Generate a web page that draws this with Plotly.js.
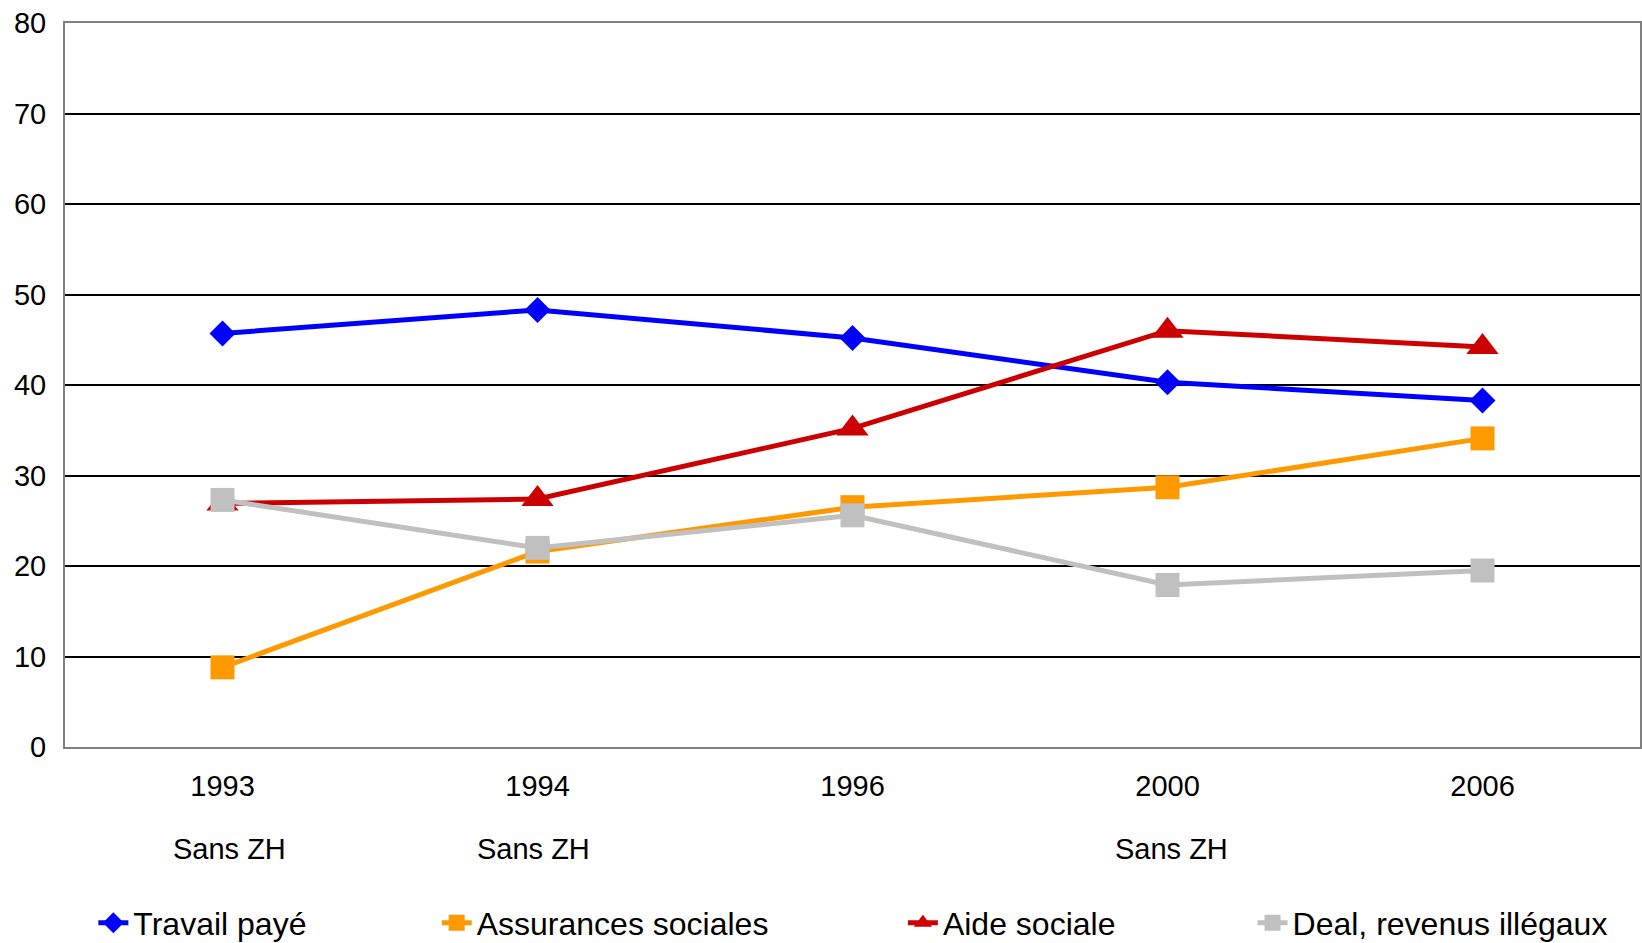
<!DOCTYPE html>
<html>
<head>
<meta charset="utf-8">
<script src="https://cdn.plot.ly/plotly-3.0.1.min.js"></script>
<style>html,body{margin:0;padding:0;background:#fff;}#chart{width:1642px;height:943px;}</style>
</head>
<body>
<div id="chart"></div>
<script>
const years = ["1993", "1994", "1996", "2000", "2006"];
const travailPaye = [45.7, 48.3, 45.2, 40.3, 38.3];
const assurancesSociales = [8.8, 21.6, 26.5, 28.7, 34.1];
const aideSociale = [26.9, 27.4, 35.2, 46.0, 44.2];
const dealRevenus = [27.3, 22.0, 25.6, 17.9, 19.5];
const seriesNames = ["Travail payé", "Assurances sociales", "Aide sociale", "Deal, revenus illégaux"];
const noteLabel = "Sans ZH";
const noteYears = ["1993", "1994", "2000"];
const yTicks = [0, 10, 20, 30, 40, 50, 60, 70, 80];

const FONT = "Liberation Sans, Arial, sans-serif";
const colors = ["#0000FF", "#FF9900", "#CC0000", "#C0C0C0"];
const symbols = ["diamond", "square", "triangle-up", "square"];
const sizes = [20, 24, 28, 24];
const values = [travailPaye, assurancesSociales, aideSociale, dealRevenus];
const legendIds = ["legend", "legend2", "legend3", "legend4"];
const legendX = [0.018, 0.236, 0.532, 0.754];

const traces = values.map((v, i) => ({
  type: "scatter", mode: "lines+markers",
  x: years, y: v, name: seriesNames[i],
  line: {color: colors[i], width: 5},
  marker: {symbol: symbols[i], size: sizes[i], color: colors[i]},
  legend: legendIds[i],
  cliponaxis: false
}));

const layout = {
  width: 1642, height: 943,
  margin: {l: 65, r: 2, t: 23, b: 196, autoexpand: false},
  paper_bgcolor: "#fff", plot_bgcolor: "#fff",
  font: {family: FONT, size: 29, color: "#000"},
  showlegend: true,
  xaxis: {
    type: "category", range: [-0.5, 4.5],
    showgrid: false, zeroline: false,
    showline: true, linecolor: "#808080", linewidth: 2, mirror: true,
    ticks: "", ticklabelstandoff: 12,
    tickfont: {family: FONT, size: 29, color: "#000"}
  },
  yaxis: {
    range: [0, 80], tickvals: yTicks,
    showgrid: true, gridcolor: "#000", gridwidth: 2,
    zeroline: false,
    showline: true, linecolor: "#808080", linewidth: 2, mirror: true,
    ticks: "", ticklabelstandoff: 11,
    tickfont: {family: FONT, size: 29, color: "#000"}
  },
  annotations: noteYears.map((yr, i) => ({
    x: years.indexOf(yr), xref: "x", y: -0.166, yref: "paper",
    text: noteLabel, showarrow: false,
    xshift: [7, -4, 4][i],
    font: {family: FONT, size: 29, color: "#000"}
  }))
};
legendIds.forEach((id, i) => {
  layout[id] = {
    orientation: "h", x: legendX[i], xanchor: "left",
    y: -0.243, yanchor: "middle",
    bgcolor: "rgba(0,0,0,0)", borderwidth: 0,
    font: {family: FONT, size: 32, color: "#000"}
  };
});

Plotly.newPlot("chart", traces, layout, {displayModeBar: false, staticPlot: true});
</script>
</body>
</html>
